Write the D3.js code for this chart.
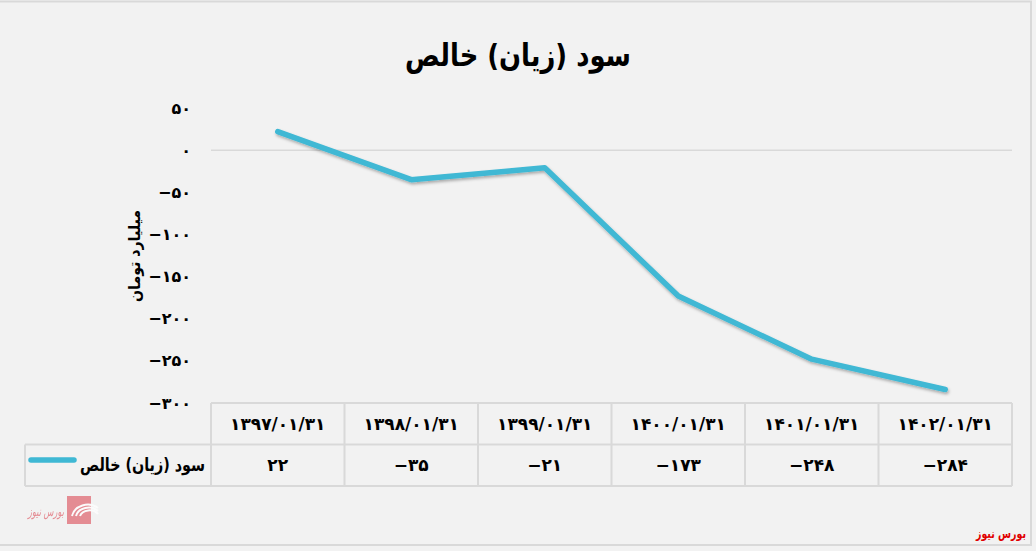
<!DOCTYPE html>
<html><head><meta charset="utf-8">
<script src="https://cdn.jsdelivr.net/npm/d3@7"></script>
<style>
html,body{margin:0;padding:0;background:#f2f2f2;}
svg{display:block;font-family:"DejaVu Sans",sans-serif;}
</style></head>
<body>
<svg id="c" width="1036" height="551"></svg>
<script>
const categories = ["۱۳۹۷/۰۱/۳۱","۱۳۹۸/۰۱/۳۱","۱۳۹۹/۰۱/۳۱","۱۴۰۰/۰۱/۳۱","۱۴۰۱/۰۱/۳۱","۱۴۰۲/۰۱/۳۱"];
const values = [22, -35, -21, -173, -248, -284];
const valueLabels = ["۲۲","−۳۵","−۲۱","−۱۷۳","−۲۴۸","−۲۸۴"];
const yTicks = [50, 0, -50, -100, -150, -200, -250, -300];
const yTickLabels = ["۵۰","۰","−۵۰","−۱۰۰","−۱۵۰","−۲۰۰","−۲۵۰","−۳۰۰"];
const seriesName = "سود (زیان) خالص";
const title = "سود (زیان) خالص";
const yTitle = "میلیارد تومان";

const svg = d3.select("#c");
const W = 1036, H = 551;
svg.append("rect").attr("x",0).attr("y",0).attr("width",W).attr("height",H).attr("fill","#f2f2f2");
svg.append("rect").attr("x",-1).attr("y",1.5).attr("width",1032).attr("height",543.5)
  .attr("fill","#f2f2f2").attr("stroke","#d9d9d9").attr("stroke-width",2);

const pLeft = 211, pRight = 1012, tTop = 403, rowH = 41.5;
const x = d3.scaleBand().domain(categories).range([pLeft, pRight]);
const y = d3.scaleLinear().domain([-300, 50]).range([403, 108]);

// defs: shadow
const defs = svg.append("defs");
const f = defs.append("filter").attr("id","sh").attr("x","-10%").attr("y","-10%").attr("width","120%").attr("height","130%");
f.append("feDropShadow").attr("dx",1).attr("dy",2).attr("stdDeviation",1.6).attr("flood-color","#000").attr("flood-opacity",0.3);

// title
svg.append("text").attr("x",518).attr("y",66).attr("text-anchor","middle")
  .attr("font-size",31).attr("font-weight","bold").attr("fill","#000")
  .attr("textLength",226).attr("lengthAdjust","spacingAndGlyphs").text(title);

// zero line
svg.append("line").attr("x1",pLeft).attr("x2",pRight).attr("y1",y(0)).attr("y2",y(0))
  .attr("stroke","#d9d9d9").attr("stroke-width",1.5);

// y axis (tick labels only)
const yAxis = d3.axisLeft(y).tickValues(yTicks).tickSize(0).tickPadding(0)
  .tickFormat(d=>yTickLabels[yTicks.indexOf(d)]);
const ga = svg.append("g").attr("transform","translate(191,0)").call(yAxis);
ga.select(".domain").remove();
ga.selectAll("text").attr("font-size",16).attr("font-weight","bold").attr("fill","#000")
  .attr("font-family","DejaVu Sans").attr("direction","ltr");

// y title
svg.append("text").attr("transform","translate(140,256) rotate(-90)").attr("text-anchor","middle")
  .attr("font-size",16).attr("font-weight","bold").attr("fill","#000")
  .attr("textLength",92).attr("lengthAdjust","spacingAndGlyphs").text(yTitle);

// line
const line = d3.line().x((d,i)=>x(categories[i]) + x.bandwidth()/2).y(d=>y(d));
svg.append("path").datum(values).attr("d",line).attr("fill","none")
  .attr("stroke","#3fb8d4").attr("stroke-width",5.5).attr("stroke-linecap","round")
  .attr("stroke-linejoin","round").attr("filter","url(#sh)");

// data table
const gc = "#d9d9d9";
const tg = svg.append("g");
tg.append("line").attr("x1",pLeft).attr("x2",pRight).attr("y1",tTop).attr("y2",tTop).attr("stroke",gc).attr("stroke-width",2);
tg.append("line").attr("x1",25).attr("x2",pRight).attr("y1",tTop+rowH).attr("y2",tTop+rowH).attr("stroke",gc).attr("stroke-width",2);
tg.append("line").attr("x1",25).attr("x2",pRight).attr("y1",tTop+2*rowH).attr("y2",tTop+2*rowH).attr("stroke",gc).attr("stroke-width",2);
const vx = categories.map(c=>x(c)).concat([pRight]);
tg.selectAll("line.v").data(vx).enter().append("line").attr("class","v")
  .attr("x1",d=>d).attr("x2",d=>d).attr("y1",tTop).attr("y2",tTop+2*rowH).attr("stroke",gc).attr("stroke-width",2);
tg.append("line").attr("x1",25).attr("x2",25).attr("y1",tTop+rowH).attr("y2",tTop+2*rowH).attr("stroke",gc).attr("stroke-width",2);

tg.selectAll("text.h").data(categories).enter().append("text").attr("class","h")
  .attr("x",d=>x(d)+x.bandwidth()/2).attr("y",tTop+rowH/2+6).attr("text-anchor","middle")
  .attr("direction","ltr").attr("font-size",17).attr("font-weight","bold").attr("fill","#000").text(d=>d);
tg.selectAll("text.val").data(valueLabels).enter().append("text").attr("class","val")
  .attr("x",(d,i)=>x(categories[i])+x.bandwidth()/2).attr("y",tTop+rowH*1.5+6).attr("text-anchor","middle")
  .attr("direction","ltr").attr("font-size",17).attr("font-weight","bold").attr("fill","#000").text(d=>d);

// legend cell
tg.append("line").attr("x1",31).attr("x2",74).attr("y1",460).attr("y2",460)
  .attr("stroke","#3fb8d4").attr("stroke-width",5.5).attr("stroke-linecap","round");
tg.append("text").attr("x",205).attr("y",471).attr("text-anchor","end")
  .attr("font-size",18).attr("font-weight","bold").attr("fill","#000")
  .attr("textLength",125).attr("lengthAdjust","spacingAndGlyphs").text(seriesName);

// watermark logo bottom-left
const lg = svg.append("g").attr("opacity",0.75);
lg.append("rect").attr("x",67).attr("y",496).attr("width",24).attr("height",28).attr("fill","#e06a74");
[10,7,4].forEach((r,i)=>{
  lg.append("path").attr("d",`M${72+i*4},${516} A${r+6},${r+4} 0 0 1 ${98},${508+i*3}`)
    .attr("fill","none").attr("stroke","#fff").attr("stroke-width",2);
});
lg.append("text").attr("x",64).attr("y",516).attr("text-anchor","end").attr("font-size",13)
  .attr("font-style","italic").attr("fill","#e06a74")
  .attr("textLength",36).attr("lengthAdjust","spacingAndGlyphs").text("بورس نیوز");

// red source text bottom-right
svg.append("text").attr("x",1026).attr("y",538).attr("text-anchor","end").attr("font-size",13)
  .attr("font-weight","bold").attr("fill","#e00000")
  .attr("textLength",50).attr("lengthAdjust","spacingAndGlyphs").text("بورس نیوز");
</script>
</body></html>
